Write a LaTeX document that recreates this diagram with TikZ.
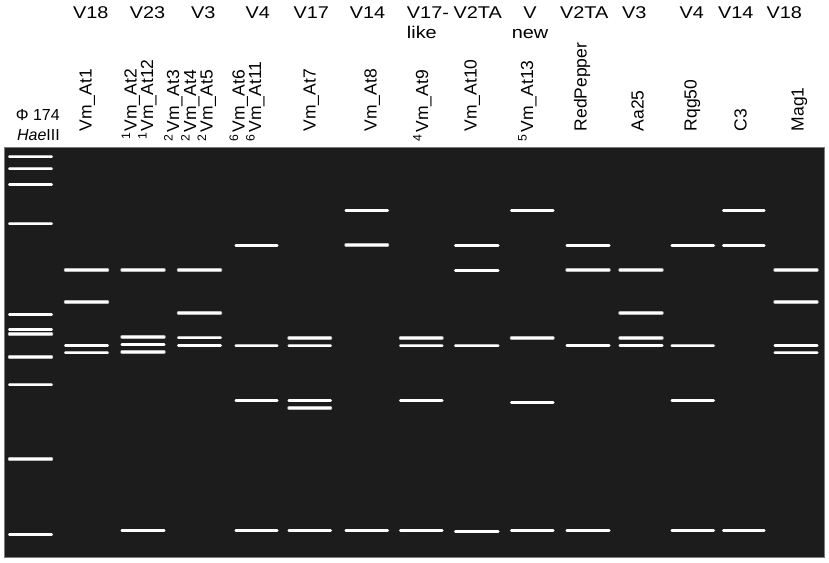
\documentclass[tikz,border=0pt]{standalone}
\usepackage{fontspec}
\setmainfont{Liberation Sans}
\usepackage{tikz}
\usepackage{xcolor}
\definecolor{gelbg}{HTML}{1C1C1C}
\definecolor{gelframe}{HTML}{7A7A7A}

\begin{document}
\begin{tikzpicture}[x=1pt, y=-1pt,
  band/.style={draw=gray!55, double=white, double distance=2.4pt, line width=0.55pt, line cap=round},
  strain/.style={font=\fontsize{17}{20}\selectfont, inner sep=0pt, anchor=base, xscale=1.17},
  isolate/.style={font=\fontsize{17.5}{20}\selectfont, inner sep=0pt, rotate=90, anchor=base west},
  ladder/.style={font=\fontsize{16}{19}\selectfont, inner sep=0pt, anchor=base east}]
\useasboundingbox (0,0) rectangle (829,562);
\fill[white] (0,0) rectangle (829,562);
\draw[gelframe, line width=1pt, fill=gelbg] (4,147.5) rectangle (824.3,557.3);
\node[strain] (s1) at (90.8,18) {V18};
\node[strain] (s2) at (147.5,18) {V23};
\node[strain] (s3) at (203.3,18) {V3};
\node[strain] (s4) at (257.7,18) {V4};
\node[strain] (s5) at (311.3,18) {V17};
\node[strain] (s6) at (367.5,18) {V14};
\node[strain, anchor=base west] (s7) at (406.7,18) {V17-};
\node[strain, anchor=base west] (s7b) at (406.7,38.3) {like};
\node[strain] (s8) at (477.8,18) {V2TA};
\node[strain] (s9) at (530,18) {V};
\node[strain] (s9b) at (530,38.3) {new};
\node[strain] (s10) at (584.2,18) {V2TA};
\node[strain] (s11) at (634.2,18) {V3};
\node[strain] (s12) at (691.7,18) {V4};
\node[strain] (s13) at (735.8,18) {V14};
\node[strain] (s14) at (784.2,18) {V18};
\node[ladder] (phi) at (60,120.7) {Φ 174};
\node[ladder] (hae) at (60,140) {\textit{Hae}III};
\node[isolate] (at1) at (91.5,131.5) {Vm\_At1};
\node[isolate] (at2) at (136.5,131.5) {\llap{\textsuperscript{1}\kern1pt}Vm\_At2};
\node[isolate] (at12) at (153,131.5) {\llap{\textsuperscript{1}\kern1pt}Vm\_At12};
\node[isolate] (at3) at (179,132.5) {\llap{\textsuperscript{2}\kern1.5pt}Vm\_At3};
\node[isolate] (at4) at (196,132.5) {\llap{\textsuperscript{2}\kern1.5pt}Vm\_At4};
\node[isolate] (at5) at (212.5,132.5) {\llap{\textsuperscript{2}\kern1.5pt}Vm\_At5};
\node[isolate] (at6) at (244.5,132.5) {\llap{\textsuperscript{6}\kern1.5pt}Vm\_At6};
\node[isolate] (at11) at (261,132.5) {\llap{\textsuperscript{6}\kern1.5pt}Vm\_At11};
\node[isolate] (at7) at (315.5,131.5) {Vm\_At7};
\node[isolate] (at8) at (376.5,131.5) {Vm\_At8};
\node[isolate] (at9) at (428,132.5) {\llap{\textsuperscript{4}\kern1.5pt}Vm\_At9};
\node[isolate] (at10) at (476.5,131.5) {Vm\_At10};
\node[isolate] (at13) at (533,132.5) {\llap{\textsuperscript{5}\kern1.5pt}Vm\_At13};
\node[isolate] (red) at (586.5,131.5) {RedPepper};
\node[isolate] (aa) at (643.5,131.5) {Aa25};
\node[isolate] (rqg) at (696.5,131.5) {Rqg50};
\node[isolate] (c3) at (746.5,131.5) {C3};
\node[isolate] (mag) at (803.5,131.5) {Mag1};
\draw[band] (9.5,156.7) -- (51.5,156.7);
\draw[band] (9.5,168.7) -- (51.5,168.7);
\draw[band] (9.5,184.3) -- (51.5,184.3);
\draw[band] (9.5,223.7) -- (51.5,223.7);
\draw[band] (9.5,314.3) -- (51.5,314.3);
\draw[band] (9.5,329.3) -- (51.5,329.3);
\draw[band] (9.5,334.0) -- (51.5,334.0);
\draw[band] (9.5,357.0) -- (51.5,357.0);
\draw[band] (9.5,384.7) -- (51.5,384.7);
\draw[band] (9.5,459.0) -- (51.5,459.0);
\draw[band] (9.5,534.3) -- (51.5,534.3);
\draw[band] (65.5,270.0) -- (107.5,270.0);
\draw[band] (65.5,302.0) -- (107.5,302.0);
\draw[band] (65.5,345.3) -- (107.5,345.3);
\draw[band] (65.5,352.7) -- (107.5,352.7);
\draw[band] (122,270.0) -- (164,270.0);
\draw[band] (122,337.0) -- (164,337.0);
\draw[band] (122,344.3) -- (164,344.3);
\draw[band] (122,352.0) -- (164,352.0);
\draw[band] (122,530.3) -- (164,530.3);
\draw[band] (178.5,270.0) -- (220.5,270.0);
\draw[band] (178.5,313.0) -- (220.5,313.0);
\draw[band] (178.5,337.7) -- (220.5,337.7);
\draw[band] (178.5,345.3) -- (220.5,345.3);
\draw[band] (236,245.3) -- (277,245.3);
\draw[band] (236,345.7) -- (277,345.7);
\draw[band] (236,400.3) -- (277,400.3);
\draw[band] (236,530.3) -- (277,530.3);
\draw[band] (289,338.0) -- (330.5,338.0);
\draw[band] (289,345.7) -- (330.5,345.7);
\draw[band] (289,400.3) -- (330.5,400.3);
\draw[band] (289,408.0) -- (330.5,408.0);
\draw[band] (289,530.3) -- (330.5,530.3);
\draw[band] (346,210.3) -- (387.5,210.3);
\draw[band] (346,245.0) -- (387.5,245.0);
\draw[band] (346,530.3) -- (387.5,530.3);
\draw[band] (400.5,338.0) -- (442,338.0);
\draw[band] (400.5,345.7) -- (442,345.7);
\draw[band] (400.5,400.3) -- (442,400.3);
\draw[band] (400.5,530.3) -- (442,530.3);
\draw[band] (455.5,245.3) -- (498,245.3);
\draw[band] (455.5,270.3) -- (498,270.3);
\draw[band] (455.5,345.7) -- (498,345.7);
\draw[band] (455.5,531.3) -- (498,531.3);
\draw[band] (511.5,210.3) -- (553,210.3);
\draw[band] (511.5,338.0) -- (553,338.0);
\draw[band] (511.5,402.3) -- (553,402.3);
\draw[band] (511.5,530.3) -- (553,530.3);
\draw[band] (567,245.3) -- (609,245.3);
\draw[band] (567,270.0) -- (609,270.0);
\draw[band] (567,345.3) -- (609,345.3);
\draw[band] (567,530.3) -- (609,530.3);
\draw[band] (620,270.0) -- (662,270.0);
\draw[band] (620,313.0) -- (662,313.0);
\draw[band] (620,338.0) -- (662,338.0);
\draw[band] (620,345.3) -- (662,345.3);
\draw[band] (672,245.3) -- (713.5,245.3);
\draw[band] (672,345.7) -- (713.5,345.7);
\draw[band] (672,400.3) -- (713.5,400.3);
\draw[band] (672,530.3) -- (713.5,530.3);
\draw[band] (723.5,210.3) -- (764,210.3);
\draw[band] (723.5,245.3) -- (764,245.3);
\draw[band] (723.5,530.3) -- (764,530.3);
\draw[band] (775,270.0) -- (817,270.0);
\draw[band] (775,302.0) -- (817,302.0);
\draw[band] (775,345.3) -- (817,345.3);
\draw[band] (775,352.7) -- (817,352.7);
\end{tikzpicture}
\end{document}
